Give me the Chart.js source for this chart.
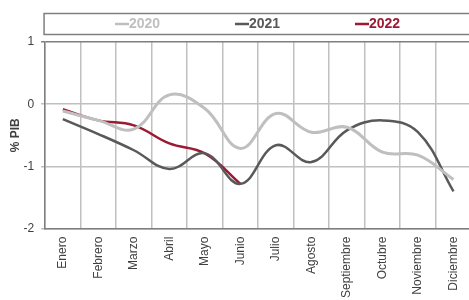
<!DOCTYPE html>
<html>
<head>
<meta charset="utf-8">
<script src="https://cdn.jsdelivr.net/npm/chart.js@4.4.0/dist/chart.umd.min.js"></script>
<style>
  html, body { margin: 0; padding: 0; background: #fff; overflow: hidden; }
  #wrap { width: 476px; height: 306px; }
</style>
</head>
<body>
<div id="wrap"><canvas id="chart" width="476" height="306"></canvas></div>
<script>
// datos
const meses = ['Enero', 'Febrero', 'Marzo', 'Abril', 'Mayo', 'Junio', 'Julio', 'Agosto', 'Septiembre', 'Octubre', 'Noviembre', 'Diciembre'];
const serie2020 = [-0.11, -0.26, -0.40, 0.15, -0.07, -0.71, -0.15, -0.45, -0.37, -0.77, -0.82, -1.21];
const serie2021 = [-0.24, -0.48, -0.74, -1.04, -0.79, -1.28, -0.66, -0.93, -0.42, -0.26, -0.45, -1.40];
const serie2022 = [-0.08, -0.26, -0.34, -0.63, -0.79, -1.28];
const ticksY = [1, 0, -1, -2];

const fuente = '"Liberation Sans", Arial, sans-serif';

// leyenda dentro de un recuadro
const leyendaCaja = {
  id: 'leyendaCaja',
  afterDraw(chart) {
    const ctx = chart.ctx;
    const left = chart.chartArea.left - 1;
    ctx.save();
    ctx.strokeStyle = '#7f7f7f';
    ctx.lineWidth = 1.5;
    ctx.strokeRect(left, 13.5, 440, 21);
    ctx.font = 'bold 14px ' + fuente;
    ctx.textBaseline = 'middle';
    chart.data.datasets.forEach((ds, i) => {
      const x = 115 + i * 120;
      ctx.strokeStyle = ds.borderColor;
      ctx.lineWidth = 2.5;
      ctx.beginPath();
      ctx.moveTo(x, 24);
      ctx.lineTo(x + 14, 24);
      ctx.stroke();
      ctx.fillStyle = ds.borderColor;
      ctx.fillText(ds.label, x + 14, 24.5);
    });
    ctx.restore();
  }
};

const ctx = document.getElementById('chart').getContext('2d');
new Chart(ctx, {
  type: 'line',
  data: {
    labels: meses,
    datasets: [
      { label: '2020', data: serie2020, borderColor: '#bfbfbf', borderWidth: 3, tension: 0.4, pointRadius: 0, fill: false },
      { label: '2021', data: serie2021, borderColor: '#595959', borderWidth: 2.5, tension: 0.4, pointRadius: 0, fill: false },
      { label: '2022', data: serie2022, borderColor: '#9b1b33', borderWidth: 2.5, tension: 0.4, pointRadius: 0, fill: false }
    ]
  },
  options: {
    responsive: false,
    animation: false,
    layout: { padding: { top: 42, left: 0, right: 3, bottom: 0 } },
    plugins: {
      legend: { display: false },
      tooltip: { enabled: false }
    },
    scales: {
      x: {
        offset: true,
        grid: { offset: true, color: '#c0c0c0', lineWidth: 1.5, drawTicks: false },
        border: { color: '#7f7f7f', width: 1.5 },
        ticks: {
          color: '#404040',
          font: { family: fuente, size: 12 },
          minRotation: 90, maxRotation: 90, padding: 8, autoSkip: false
        }
      },
      y: {
        min: -2, max: 1,
        afterBuildTicks: axis => { axis.ticks = ticksY.map(v => ({ value: v })); },
        grid: {
          color: c => (c.tick && c.tick.value === 1) ? '#7f7f7f' : '#c0c0c0',
          lineWidth: 1.5, tickLength: 4
        },
        border: { color: '#7f7f7f', width: 1.5 },
        title: {
          display: true, text: '% PIB', color: '#404040', padding: { top: 8, bottom: -6 },
          font: { family: fuente, size: 12, weight: 'bold' }
        },
        ticks: {
          color: '#404040', padding: 7,
          font: { family: fuente, size: 12 }
        }
      }
    }
  },
  plugins: [leyendaCaja]
});
</script>
</body>
</html>
